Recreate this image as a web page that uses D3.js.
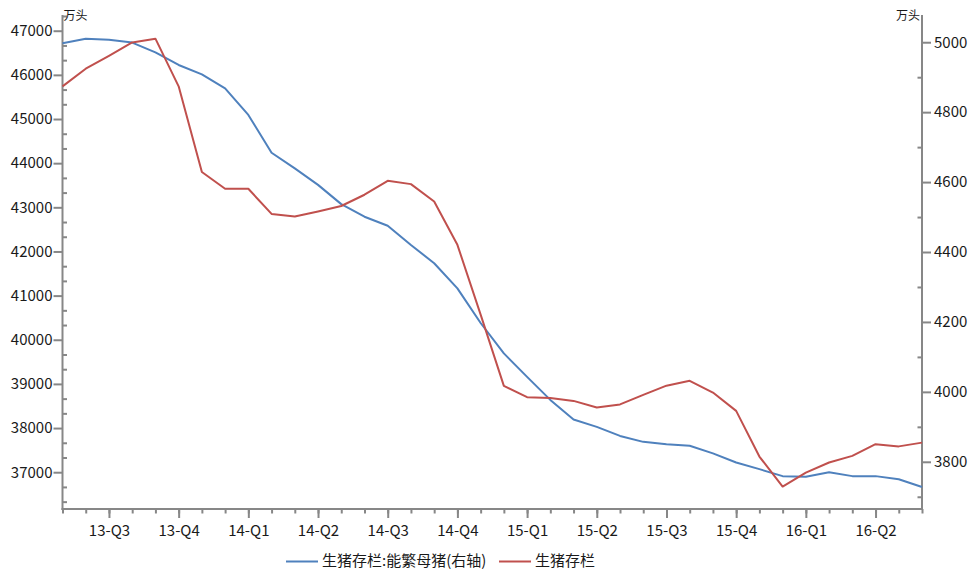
<!DOCTYPE html>
<html>
<head>
<meta charset="utf-8">
<script src="https://cdn.jsdelivr.net/npm/d3@7/dist/d3.min.js"></script>
<style>
  html, body { margin: 0; padding: 0; background: #fff; }
  svg { display: block; }
  text { font-family: "Noto Sans CJK SC", "Microsoft YaHei", sans-serif; fill: #1a1a1a; }
</style>
</head>
<body>
<svg id="chart" width="971" height="571"></svg>
<script>
// ---------- data ----------
const months = [
  "2013-07","2013-08","2013-09","2013-10","2013-11","2013-12",
  "2014-01","2014-02","2014-03","2014-04","2014-05","2014-06",
  "2014-07","2014-08","2014-09","2014-10","2014-11","2014-12",
  "2015-01","2015-02","2015-03","2015-04","2015-05","2015-06",
  "2015-07","2015-08","2015-09","2015-10","2015-11","2015-12",
  "2016-01","2016-02","2016-03","2016-04","2016-05","2016-06",
  "2016-07","2016-08"
];
const quarterMonths = ["2013-09","2013-12","2014-03","2014-06","2014-09","2014-12",
                       "2015-03","2015-06","2015-09","2015-12","2016-03","2016-06"];
const quarterLabels = ["13-Q3","13-Q4","14-Q1","14-Q2","14-Q3","14-Q4",
                       "15-Q1","15-Q2","15-Q3","15-Q4","16-Q1","16-Q2"];

// 生猪存栏 (left axis, 万头)
const hogInventory = [45740, 46140, 46430, 46735, 46820, 45740, 43800, 43420, 43420, 42850,
                      42790, 42905, 43030, 43285, 43600, 43525, 43130, 42150, 40570, 38955,
                      38700, 38680, 38615, 38465, 38535, 38750, 38960, 39070, 38805, 38390,
                      37355, 36675, 36990, 37220, 37370, 37635, 37585, 37670];
// 生猪存栏:能繁母猪 (right axis, 万头)
const sowInventory = [4997, 5010, 5007, 4999, 4971, 4935, 4908, 4868, 4792, 4684,
                      4639, 4592, 4537, 4501, 4475, 4420, 4368, 4296, 4197, 4110,
                      4043, 3977, 3921, 3900, 3874, 3857, 3850, 3846, 3824, 3798,
                      3779, 3759, 3757, 3770, 3759, 3759, 3750, 3728];

const leftTicks = [37000, 38000, 39000, 40000, 41000, 42000, 43000, 44000, 45000, 46000, 47000];
const leftMinor = [36333.33, 36666.67, 37333.33, 37666.67, 38333.33, 38666.67, 39333.33, 39666.67,
                   40333.33, 40666.67, 41333.33, 41666.67, 42333.33, 42666.67, 43333.33, 43666.67,
                   44333.33, 44666.67, 45333.33, 45666.67, 46333.33, 46666.67, 47333.33];
const rightTicks = [3800, 4000, 4200, 4400, 4600, 4800, 5000];
const rightMinor = [3700, 3900, 4100, 4300, 4500, 4700, 4900];

const seriesNames = ["生猪存栏:能繁母猪(右轴)", "生猪存栏"];
const unitLabel = "万头";

// ---------- layout ----------
const svg = d3.select("#chart");
const L = 62.5, R = 922, T = 16, B = 509;
const axisColor = "#878787";
const blue = "#4F81BD", red = "#C0504D";

const x = d3.scalePoint().domain(months).range([L, R]).padding(0);
const yL = d3.scaleLinear().domain([36166.67, 47333.33]).range([B, T]);
const yR = d3.scaleLinear().domain([3665, 5075]).range([B, T]);

function styleAxis(g) {
  g.select(".domain").remove();
  g.selectAll(".tick line").attr("stroke", axisColor).attr("stroke-width", 2);
  g.selectAll(".tick text").style("font-size", "15px").attr("fill", "#1a1a1a");
}

// left axis minor (inward) and major (outward)
svg.append("g").attr("transform", `translate(${L},0)`)
  .call(d3.axisLeft(yL).tickValues(leftMinor).tickSize(-4.5).tickFormat(""))
  .call(styleAxis);
svg.append("g").attr("transform", `translate(${L},0)`)
  .call(d3.axisLeft(yL).tickValues(leftTicks).tickSize(9).tickPadding(1).tickFormat(d3.format("d")))
  .call(styleAxis);

// right axis
svg.append("g").attr("transform", `translate(${R},0)`)
  .call(d3.axisRight(yR).tickValues(rightMinor).tickSize(-4.5).tickFormat(""))
  .call(styleAxis);
svg.append("g").attr("transform", `translate(${R},0)`)
  .call(d3.axisRight(yR).tickValues(rightTicks).tickSize(9).tickPadding(3).tickFormat(d3.format("d")))
  .call(styleAxis);

// bottom axis
svg.append("g").attr("transform", `translate(0,${B})`)
  .call(d3.axisBottom(x).tickValues(months).tickSize(4.5).tickFormat(""))
  .call(styleAxis);
svg.append("g").attr("transform", `translate(0,${B})`)
  .call(d3.axisBottom(x).tickValues(quarterMonths).tickSize(9).tickPadding(7)
        .tickFormat(d => quarterLabels[quarterMonths.indexOf(d)]))
  .call(styleAxis);

// axis lines
svg.append("line").attr("x1", L).attr("x2", L).attr("y1", T - 1).attr("y2", B + 1)
  .attr("stroke", axisColor).attr("stroke-width", 2);
svg.append("line").attr("x1", R).attr("x2", R).attr("y1", T - 1).attr("y2", B + 1)
  .attr("stroke", axisColor).attr("stroke-width", 2);
svg.append("line").attr("x1", L - 1).attr("x2", R + 1).attr("y1", B).attr("y2", B)
  .attr("stroke", axisColor).attr("stroke-width", 2);

// unit labels
svg.append("text").attr("x", L + 1).attr("y", 17).attr("dominant-baseline", "middle")
  .style("font-size", "12px").text(unitLabel);
svg.append("text").attr("x", R - 2).attr("y", 17).attr("dominant-baseline", "middle")
  .attr("text-anchor", "end").style("font-size", "12px").text(unitLabel);

// lines
const lineL = d3.line().x((d, i) => x(months[i])).y(d => yL(d));
const lineR = d3.line().x((d, i) => x(months[i])).y(d => yR(d));

svg.append("path").datum(sowInventory).attr("d", lineR)
  .attr("fill", "none").attr("stroke", blue).attr("stroke-width", 2)
  .attr("stroke-linejoin", "round");
svg.append("path").datum(hogInventory).attr("d", lineL)
  .attr("fill", "none").attr("stroke", red).attr("stroke-width", 2)
  .attr("stroke-linejoin", "round");

// legend
const legY = 561.5;
const legend = [
  { name: seriesNames[0], color: blue, x0: 286 },
  { name: seriesNames[1], color: red, x0: 499 }
];
legend.forEach(l => {
  svg.append("line").attr("x1", l.x0).attr("x2", l.x0 + 32).attr("y1", legY).attr("y2", legY)
    .attr("stroke", l.color).attr("stroke-width", 2);
  svg.append("text").attr("x", l.x0 + 36).attr("y", legY).attr("dominant-baseline", "middle")
    .style("font-size", "15px").text(l.name);
});
</script>
</body>
</html>
